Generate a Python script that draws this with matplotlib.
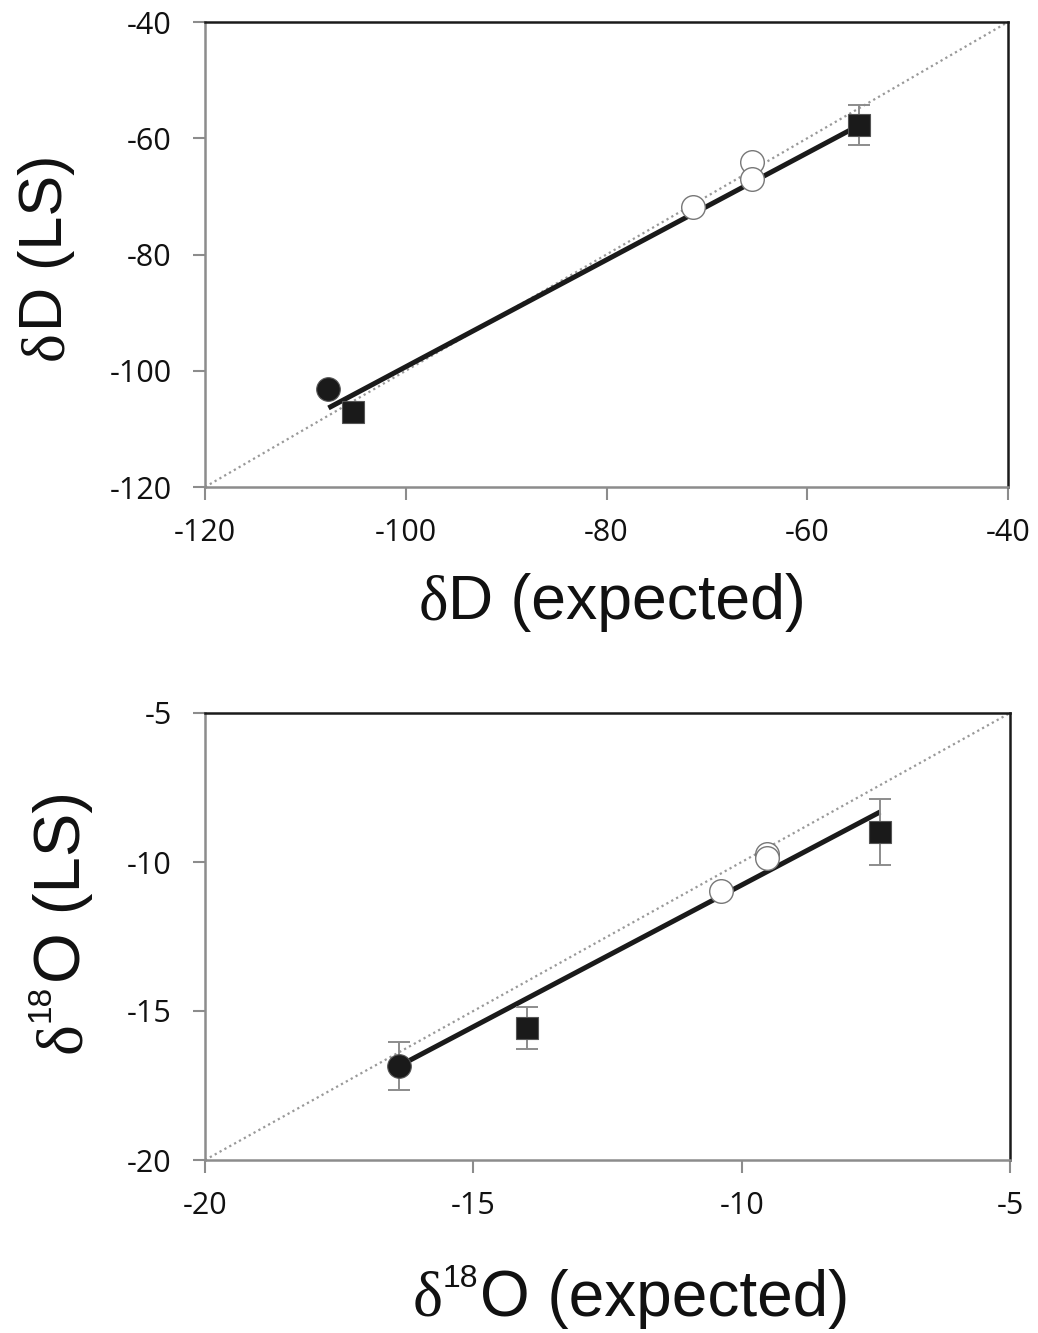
import matplotlib
matplotlib.use("Agg")
import matplotlib.pyplot as plt

# --- dD panel data ---
dD_sq_exp = [-105.3, -54.8]
dD_sq_ls = [-107.1, -57.7]
dD_sq_err = [0.0, 3.4]
dD_fc_exp = [-107.75]
dD_fc_ls = [-103.2]
dD_oc_exp = [-65.5, -65.5, -71.4]
dD_oc_ls = [-64.1, -67.0, -71.8]
dD_fit_x = [-107.7, -55.3]
dD_fit_y = [-106.4, -58.2]
dD_ticks = [-120, -100, -80, -60, -40]

# --- d18O panel data ---
dO_sq_exp = [-14.0, -7.42]
dO_sq_ls = [-15.57, -8.99]
dO_sq_err = [0.7, 1.1]
dO_fc_exp = [-16.39]
dO_fc_ls = [-16.85]
dO_fc_err = [0.8]
dO_oc_exp = [-9.53, -9.52, -10.39]
dO_oc_ls = [-9.72, -9.85, -10.97]
dO_fit_x = [-16.39, -7.42]
dO_fit_y = [-16.85, -8.32]
dO_ticks = [-20, -15, -10, -5]

W, H = 1038, 1333
fig = plt.figure(figsize=(W / 100, H / 100), dpi=100)
ax1 = fig.add_axes([205 / W, 1 - 487 / H, 803 / W, 465 / H])
ax2 = fig.add_axes([205 / W, 1 - 1160 / H, 805 / W, 447 / H])

dark = "#1a1a1a"
grey = "#8c8c8c"


def style(ax, ticks):
    lo, hi = ticks[0], ticks[-1]
    ax.set_xlim(lo, hi)
    ax.set_ylim(lo, hi)
    ax.set_xticks(ticks)
    ax.set_yticks(ticks)
    ax.set_xticklabels([str(t) for t in ticks])
    ax.set_yticklabels([str(t) for t in ticks])
    for s in ["left", "bottom"]:
        ax.spines[s].set_color(grey)
        ax.spines[s].set_linewidth(1.8)
    for s in ["top", "right"]:
        ax.spines[s].set_color(dark)
        ax.spines[s].set_linewidth(1.8)
    ax.tick_params(direction="out", length=9, width=1.5, color=grey,
                   labelsize=22, labelcolor="#111111")
    ax.tick_params(axis="x", pad=13)
    ax.tick_params(axis="y", pad=15)
    for lab in ax.get_xticklabels() + ax.get_yticklabels():
        lab.set_family("Open Sans")
    # 1:1 line
    ax.plot([lo, hi], [lo, hi], ls=(0, (1, 1.5)), color="#999999", lw=1.6, zorder=1)


def points(ax, sx, sy, se, fx, fy, fe, ox, oy, lx, ly):
    ax.plot(lx, ly, color=dark, lw=3.6, solid_capstyle="butt", zorder=2)
    ax.errorbar(sx, sy, yerr=se, fmt="none", ecolor=grey, elinewidth=1.4,
                capsize=8, capthick=1.4, zorder=3)
    if fe is not None:
        ax.errorbar(fx, fy, yerr=fe, fmt="none", ecolor=grey, elinewidth=1.4,
                    capsize=8, capthick=1.4, zorder=3)
    ax.plot(sx, sy, "s", ms=16, mfc=dark, mec="#555555", mew=0.8, ls="none", zorder=4)
    ax.plot(fx, fy, "o", ms=17, mfc=dark, mec="#555555", mew=0.8, ls="none", zorder=4)
    ax.plot(ox, oy, "o", ms=17, mfc="white", mec="#777777", mew=1.0, ls="none", zorder=4)


style(ax1, dD_ticks)
points(ax1, dD_sq_exp, dD_sq_ls, dD_sq_err, dD_fc_exp, dD_fc_ls, None,
       dD_oc_exp, dD_oc_ls, dD_fit_x, dD_fit_y)

style(ax2, dO_ticks)
points(ax2, dO_sq_exp, dO_sq_ls, dO_sq_err, dO_fc_exp, dO_fc_ls, dO_fc_err,
       dO_oc_exp, dO_oc_ls, dO_fit_x, dO_fit_y)


# label built from pieces: serif delta, small superscript, sans text
def rich(cx, cy, pieces, rotation=0):
    # cx: centre (horizontal) or baseline x (rotated); cy: baseline y or centre y, image pixels
    r = fig.canvas.get_renderer()
    widths = []
    for txt, fam, size, rise in pieces:
        t = fig.text(0, 0, txt, family=fam, fontsize=size)
        bb = t.get_window_extent(r)
        widths.append(bb.width)
        t.remove()
    pos = -sum(widths) / 2
    for (txt, fam, size, rise), w in zip(pieces, widths):
        if rotation == 0:
            px, py = cx + pos, (H - cy) + rise
        else:
            px, py = cx - rise, (H - cy) + pos
        fig.text(px / W, py / H, txt, family=fam, fontsize=size, color="#111111",
                 rotation=rotation, rotation_mode="anchor", ha="left", va="baseline")
        pos += w + (2 if size < 30 else 0)


serif, sans = "Liberation Serif", "Liberation Sans"
rich(612, 619, [("δ", serif, 45, 0), ("D (expected)", sans, 45, 0)])
rich(62, 257, [("δ", serif, 44, 0), ("D (LS)", sans, 44, 0)], rotation=90)
rich(630, 1316, [("δ", serif, 46, 0), ("18", sans, 23, 29), ("O (expected)", sans, 46, 0)])
rich(80, 923, [("δ", serif, 47, 0), ("18", sans, 24, 31), ("O (LS)", sans, 47, 0)], rotation=90)

fig.savefig("out.png", dpi=100, facecolor="white")
